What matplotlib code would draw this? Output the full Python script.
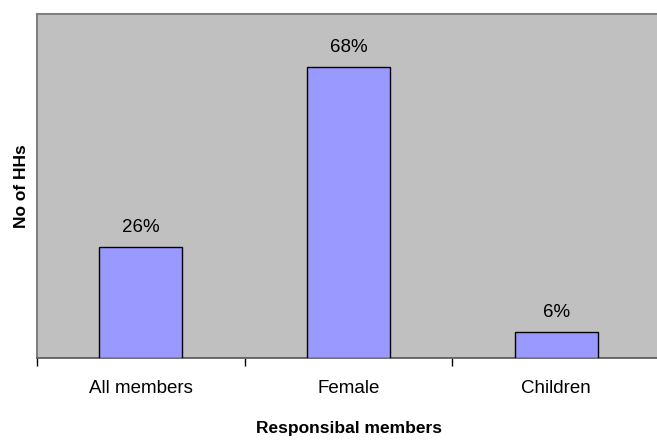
import matplotlib
matplotlib.use("Agg")
import matplotlib.pyplot as plt
import numpy as np

plt.rcParams['font.family'] = ['Liberation Sans', 'DejaVu Sans']

categories = ["All members", "Female", "Children"]
shares = [26, 68, 6]  # percent of households
value_labels = ["26%", "68%", "6%"]

fig = plt.figure(figsize=(6.57, 4.42), dpi=100)
ax = fig.add_axes([37 / 657, 1 - 358 / 442, 623 / 657, 344 / 442])
ax.set_facecolor("#C0C0C0")

x = np.arange(len(categories))
ax.bar(x, shares, width=0.4, color="#9999FF", edgecolor="#000000", linewidth=1.0, zorder=3)

for xi, v, lab in zip(x, shares, value_labels):
    ax.text(xi, v + 2.6, lab, ha="center", va="bottom", fontsize=13.5, color="black")

ax.set_xlim(-0.5, 2.5)
ax.set_ylim(0, 80.4)

# category labels centred, ticks on category boundaries
ax.set_xticks(x)
ax.set_xticklabels(categories, fontsize=13.5)
ax.tick_params(axis="x", which="major", length=0, pad=16)
ax.set_xticks([-0.5, 0.5, 1.5, 2.5], minor=True)
ax.tick_params(axis="x", which="minor", length=6, width=1, color="black", direction="out")
ax.set_yticks([])

for side in ("top", "left"):
    ax.spines[side].set_color("#808080")
    ax.spines[side].set_linewidth(1.5)
ax.spines["right"].set_visible(False)
ax.spines["bottom"].set_color("#555555")
ax.spines["bottom"].set_linewidth(1.2)

ax.set_xlabel("Responsibal members", fontsize=12.5, fontweight="bold", labelpad=17)
ax.set_ylabel("No of HHs", fontsize=12.5, fontweight="bold", labelpad=6)

fig.savefig("out.png", dpi=100)
